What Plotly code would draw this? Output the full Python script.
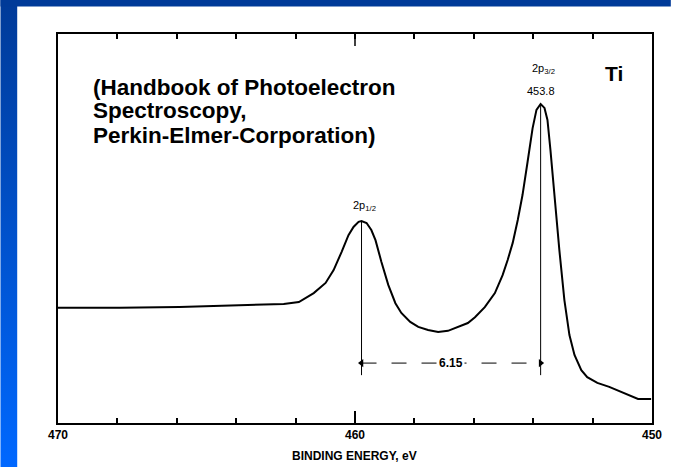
import plotly.graph_objects as go

# Ti 2p XPS spectrum
energy_ev = [470.00, 467.92, 465.91, 464.24, 463.23, 462.40, 461.89, 461.39, 460.99, 460.72,
             460.45, 460.22, 460.05, 459.88, 459.78, 459.61, 459.45, 459.31, 459.11, 458.88,
             458.64, 458.44, 458.14, 457.87, 457.54, 457.20, 456.87, 456.53, 456.20, 455.96,
             455.63, 455.29, 455.03, 454.86, 454.69, 454.52, 454.36, 454.19, 454.02, 453.89,
             453.75, 453.62, 453.52, 453.42, 453.28, 453.12, 452.95, 452.78, 452.61, 452.38,
             452.18, 451.84, 451.44, 451.04, 450.47, 450.03]
intensity = [29.6, 29.6, 29.8, 30.1, 30.3, 30.6, 31.1, 33.4, 36.0, 39.3,
             44.0, 48.3, 50.4, 51.7, 51.9, 51.4, 49.6, 47.0, 41.4, 35.5,
             30.8, 28.3, 26.0, 24.7, 23.9, 23.4, 23.7, 24.7, 25.7, 27.2,
             29.8, 33.4, 38.0, 41.9, 46.3, 52.2, 58.6, 67.1, 75.8, 80.5,
             82.0, 81.0, 77.9, 70.2, 57.3, 44.5, 31.6, 22.6, 17.5, 13.6,
             11.8, 10.3, 9.3, 8.0, 6.2, 6.2]

peak_energies = [459.78, 453.75]
peak_heights = [51.9, 82.0]
peak_labels = ["2p<sub>1/2</sub>", "2p<sub>3/2</sub>"]
peak_position_label = "453.8"
splitting_label = "6.15"
marker_bottom = 12.3
splitting_level = 15.4

tick_positions = [470, 468, 466, 464, 462, 460, 458, 456, 454, 452, 450]
label_positions = [470, 460, 450]
long_tick = 460
source_lines = ["(Handbook of Photoelectron", "Spectroscopy,", "Perkin-Elmer-Corporation)"]

W, H = 674, 467
L, R, T, B = 58, 19, 34, 44
PW, PH = W - L - R, H - T - B
FONT = "Arial, Liberation Sans, sans-serif"

# slide background: dark blue top bar, left bar fading to bright blue
FRAME_SVG = (
    "data:image/svg+xml;utf8,"
    "<svg xmlns='http://www.w3.org/2000/svg' width='674' height='467' preserveAspectRatio='none'>"
    "<defs><linearGradient id='g' x1='0' y1='0' x2='0' y2='1'>"
    "<stop offset='0' stop-color='%23003a98'/><stop offset='1' stop-color='%230068ff'/>"
    "</linearGradient></defs>"
    "<rect x='0' y='0' width='17' height='467' fill='url(%23g)'/>"
    "<rect x='0' y='0' width='674' height='6.5' fill='%23003a98'/>"
    "</svg>"
)


def px(x):
    return (x - L) / PW


def py(y):
    return (H - B - y) / PH


fig = go.Figure()

fig.add_trace(go.Scatter(x=energy_ev, y=intensity, mode="lines",
                         line=dict(color="black", width=2), hoverinfo="skip"))
# empty traces so the extra tick axes get drawn
for ax in ["x2", "x3"]:
    fig.add_trace(go.Scatter(x=[energy_ev[0]], y=[intensity[0]], xaxis=ax, mode="none", hoverinfo="skip"))

# vertical markers at the two peaks
for e, h in zip(peak_energies, peak_heights):
    fig.add_trace(go.Scatter(x=[e, e], y=[h, marker_bottom], mode="lines",
                             line=dict(color="black", width=1), hoverinfo="skip"))

# dimension line between the peaks, with arrow heads at both ends
fig.add_trace(go.Scatter(x=peak_energies, y=[splitting_level] * 2, mode="lines+markers",
                         line=dict(color="black", width=1, dash="longdash"),
                         marker=dict(symbol=["triangle-left", "triangle-right"], size=7, color="black"),
                         hoverinfo="skip"))

# longer tick at 460 eV on the top axis
shapes = [dict(type="line", xref="x", yref="paper", x0=long_tick, x1=long_tick, y0=1 - 12 / PH, y1=1,
               line=dict(color="black", width=1.5))]

annotations = []
for e, h, lab in zip(peak_energies, peak_heights, peak_labels):
    annotations.append(dict(x=e, y=h, text=lab, showarrow=False, yanchor="bottom", yshift=6, xshift=3,
                            font=dict(family=FONT, size=11, color="black")))
annotations[-1]["yshift"] = 26
annotations.append(dict(x=peak_energies[1], y=peak_heights[1], text=peak_position_label, showarrow=False,
                        yanchor="bottom", yshift=5, font=dict(family=FONT, size=11, color="black")))

mid = sum(peak_energies) / 2
annotations.append(dict(x=mid, y=splitting_level, text="<b>%s</b>" % splitting_label, showarrow=False,
                        bgcolor="white", font=dict(family=FONT, size=12, color="black")))

for i, line in enumerate(source_lines):
    annotations.append(dict(xref="paper", yref="paper", x=px(91), y=py(87 + 24 * i), text="<b>%s</b>" % line,
                            showarrow=False, xanchor="left", yanchor="middle",
                            font=dict(family=FONT, size=22.5, color="black")))
annotations.append(dict(xref="paper", yref="paper", x=px(617), y=py(73), text="<b>Ti</b>",
                        showarrow=False, xanchor="center", yanchor="middle",
                        font=dict(family=FONT, size=21, color="black")))
annotations.append(dict(xref="paper", yref="paper", x=px(356), y=py(456), text="<b>BINDING ENERGY, eV</b>",
                        showarrow=False, xanchor="center", yanchor="middle",
                        font=dict(family=FONT, size=12, color="black")))

fig.update_layout(
    width=W, height=H,
    margin=dict(l=L, r=R, t=T, b=B, pad=0),
    paper_bgcolor="white", plot_bgcolor="white",
    showlegend=False,
    shapes=shapes,
    annotations=annotations,
    images=[dict(source=FRAME_SVG, xref="paper", yref="paper", x=px(0), y=py(0),
                 sizex=W / PW, sizey=H / PH, xanchor="left", yanchor="top",
                 sizing="stretch", layer="below")],
)
minor_ticks = dict(tickmode="array", tickvals=tick_positions, showticklabels=False,
                   ticks="inside", ticklen=5, tickwidth=1.5, tickcolor="black",
                   range=[470, 450], overlaying="x", matches="x", showline=False,
                   showgrid=False, zeroline=False)
fig.update_layout(
    xaxis=dict(range=[470, 450], showline=True, linecolor="black", linewidth=2, mirror=True,
               showgrid=False, zeroline=False,
               tickmode="array", tickvals=label_positions, ticktext=[str(v) for v in label_positions],
               ticks="inside", ticklen=12, tickwidth=1.5, tickcolor="black",
               tickfont=dict(family=FONT, size=12, color="black", weight="bold")),
    xaxis2=dict(side="top", **minor_ticks),
    xaxis3=dict(side="bottom", **minor_ticks),
    yaxis=dict(range=[0, 100], showline=True, linecolor="black", linewidth=2, mirror=True,
               showgrid=False, zeroline=False, showticklabels=False, ticks=""),
)

fig.write_html("out.html", config={"displayModeBar": False},
               post_script="document.body.style.margin='0px';")
